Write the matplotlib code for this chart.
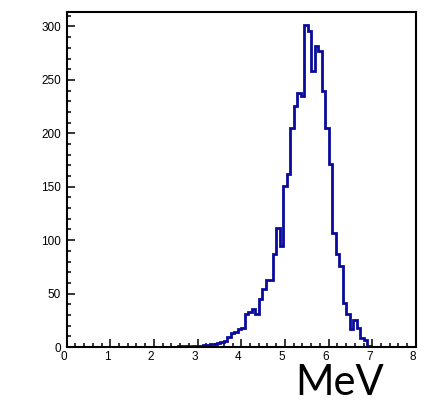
import numpy as np
import matplotlib.pyplot as plt
import matplotlib.transforms as mtransforms
from matplotlib.ticker import MultipleLocator

# histogram: 100 bins from 0 to 8 MeV
x_min = 0.0
x_max = 8.0
n_bins = 100
first_bin = 32  # counts below start at bin 32 (2.56 MeV)
counts_nonzero = [1, 0, 1, 0, 1, 0, 1, 2, 2, 3,
                  3, 4, 5, 6, 9, 13, 14, 17, 18, 31,
                  33, 36, 31, 45, 54, 63, 63, 87, 111, 95,
                  151, 162, 205, 226, 238, 235, 301, 296, 258, 282,
                  277, 240, 205, 171, 107, 87, 76, 41, 31, 17,
                  25, 18, 8, 7, 1]
x_ticks = [0, 1, 2, 3, 4, 5, 6, 7, 8]
y_ticks = [0, 50, 100, 150, 200, 250, 300]
y_max = 314
unit = "MeV"

counts = np.zeros(n_bins)
counts[first_bin:first_bin + len(counts_nonzero)] = counts_nonzero
edges = np.linspace(x_min, x_max, n_bins + 1)

plt.rcParams['font.family'] = ['Liberation Sans', 'DejaVu Sans']

fig = plt.figure(figsize=(4.24, 4.04), dpi=100)
ax = fig.add_axes([0.157, 0.141, 0.824, 0.8305])

ax.stairs(counts, edges, color='#0a0a9c', linewidth=2.0, zorder=2)

ax.set_xlim(x_min, x_max)
ax.set_ylim(0, y_max)
ax.set_xticks(x_ticks)
ax.set_yticks(y_ticks)
ax.xaxis.set_minor_locator(MultipleLocator(0.2))
ax.yaxis.set_minor_locator(MultipleLocator(10))

ax.tick_params(which='both', direction='in', width=1.1, top=False, right=False,
               labelsize=8.5, colors='black')
ax.tick_params(which='major', length=6)
ax.tick_params(which='minor', length=3)
ax.tick_params(axis='x', pad=3)
ax.tick_params(axis='y', pad=4)

# ROOT puts the x labels a little to the left of their ticks
shift = mtransforms.ScaledTranslation(-3 / 100, 0, fig.dpi_scale_trans)
for lab in ax.get_xticklabels():
    lab.set_transform(lab.get_transform() + shift)

for s in ax.spines.values():
    s.set_linewidth(1.5)
    s.set_zorder(3)

fig.text(0.802, 0.022, unit, family='Lato', fontsize=30, ha='center', va='baseline')

fig.savefig('out.png', dpi=100)
